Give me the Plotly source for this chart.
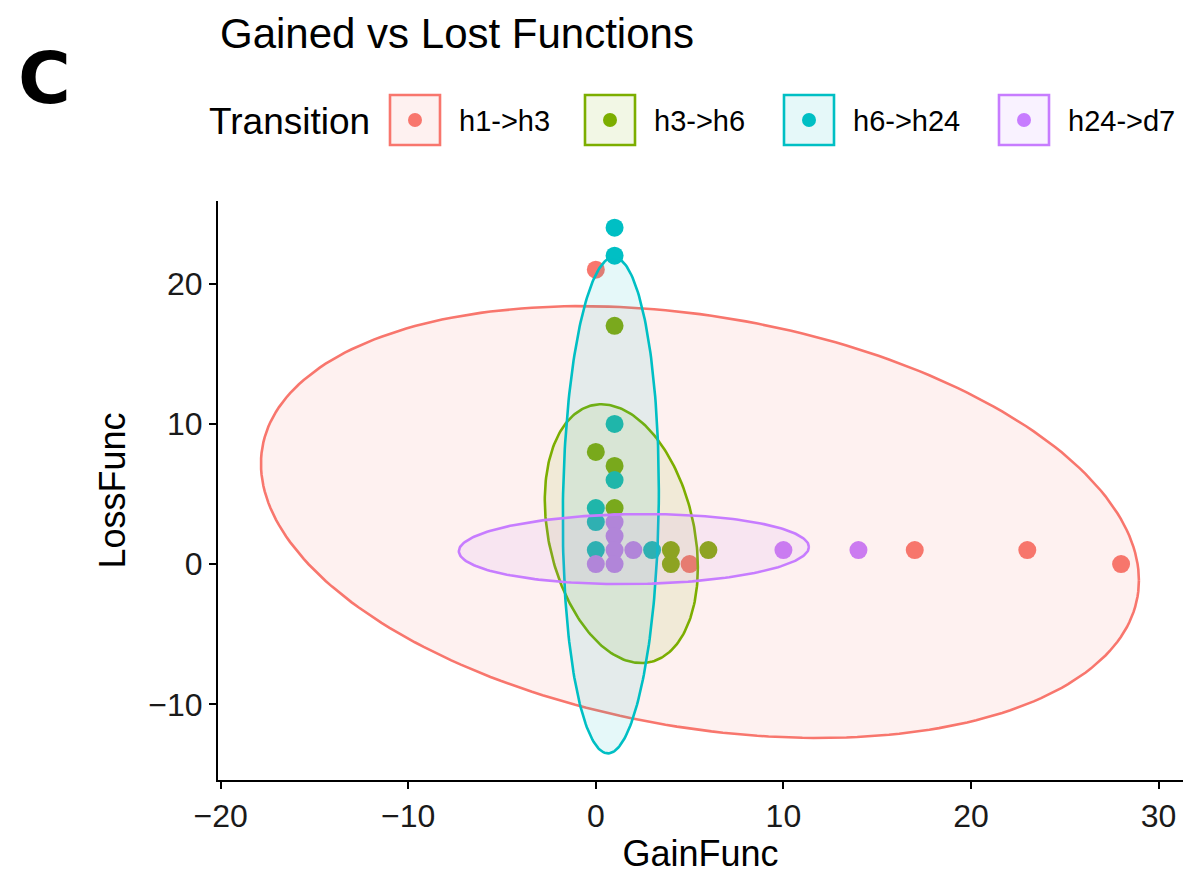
import numpy as np
import plotly.graph_objects as go

# Transition groups and their colours
groups = ["h1->h3", "h3->h6", "h6->h24", "h24->d7"]
colors = ["#F8766D", "#7CAE00", "#00BFC4", "#C77CFF"]

# Gained / lost function counts per group
gain_h1_h3 = [0, 5, 17, 23, 28]
loss_h1_h3 = [21, 0, 1, 1, 0]
gain_h3_h6 = [1, 0, 1, 1, 4, 4, 6]
loss_h3_h6 = [17, 8, 7, 4, 1, 0, 1]
gain_h6_h24 = [1, 1, 1, 1, 0, 0, 0, 3]
loss_h6_h24 = [24, 22, 10, 6, 4, 3, 1, 1]
gain_h24_d7 = [1, 1, 1, 2, 0, 1, 10, 14]
loss_h24_d7 = [3, 2, 1, 1, 0, 0, 1, 1]

gains = [gain_h1_h3, gain_h3_h6, gain_h6_h24, gain_h24_d7]
losses = [loss_h1_h3, loss_h3_h6, loss_h6_h24, loss_h24_d7]

# Confidence ellipse parameters per group: centre, half-width, half-height, correlation
ell_cx = [5.55, 1.36, 0.80, 2.03]
ell_cy = [3.00, 2.17, 4.20, 1.07]
ell_hx = [23.4, 4.08, 2.56, 9.33]
ell_hy = [15.4, 9.23, 17.7, 2.50]
ell_rho = [-0.27, -0.26, 0.06, 0.06]

FONT = "Liberation Sans, Arial, sans-serif"


def rgba(hex_color, a):
    h = hex_color.lstrip("#")
    r, g, b = int(h[0:2], 16), int(h[2:4], 16), int(h[4:6], 16)
    return f"rgba({r},{g},{b},{a})"


fig = go.Figure()

for name, col, gx, ly in zip(groups, colors, gains, losses):
    fig.add_trace(go.Scatter(
        x=gx, y=ly, mode="markers", name=name, showlegend=False,
        marker=dict(color=col, size=18, line=dict(width=0)),
    ))

t = np.linspace(0, 2 * np.pi, 241)
for name, col, cx, cy, hx, hy, rho in zip(groups, colors, ell_cx, ell_cy,
                                          ell_hx, ell_hy, ell_rho):
    ex = cx + hx * np.cos(t)
    ey = cy + hy * (rho * np.cos(t) + np.sqrt(1 - rho ** 2) * np.sin(t))
    fig.add_trace(go.Scatter(
        x=ex, y=ey, mode="lines", fill="toself", showlegend=False,
        fillcolor=rgba(col, 0.1), line=dict(color=col, width=2.6),
        hoverinfo="skip",
    ))

axis_font = dict(family=FONT, size=32, color="#1a1a1a")
title_font = dict(family=FONT, size=36, color="black")

fig.update_layout(
    width=1202, height=874,
    margin=dict(l=218, r=19, t=201, b=94),
    paper_bgcolor="white", plot_bgcolor="white",
    font=dict(family=FONT, color="black"),
    showlegend=False,
    xaxis=dict(
        range=[-20.14, 31.3], tickvals=[-20, -10, 0, 10, 20, 30],
        ticktext=["\u221220", "\u221210", "0", "10", "20", "30"],
        showgrid=False, zeroline=False, showline=True, linecolor="black",
        linewidth=2, ticks="outside", ticklen=7, tickwidth=2, tickcolor="black",
        tickfont=axis_font, automargin=False,
        title=dict(text="GainFunc", font=title_font, standoff=10),
    ),
    yaxis=dict(
        range=[-15.4, 25.9], tickvals=[-10, 0, 10, 20],
        ticktext=["\u221210", "0", "10", "20"],
        showgrid=False, zeroline=False, showline=True, linecolor="black",
        linewidth=2, ticks="outside", ticklen=7, tickwidth=2, tickcolor="black",
        tickfont=axis_font, automargin=False,
        title=dict(text="LossFunc", font=title_font, standoff=12),
    ),
)

# Pixel helpers for placing text and the key outside the plotting area
PW, PH, PL, PT = 965.0, 579.0, 218.0, 201.0


def px_x(p):
    return (p - PL) / PW


def px_y(p):
    return 1 + (PT - p) / PH


# Panel letter and title
fig.add_annotation(text="<b>C</b>", xref="paper", yref="paper",
                   x=px_x(16), y=px_y(78), xanchor="left", yanchor="middle",
                   showarrow=False, font=dict(family="DejaVu Sans", size=72, color="black"))
fig.add_annotation(text="Gained vs Lost Functions", xref="paper", yref="paper",
                   x=px_x(218), y=px_y(33), xanchor="left", yanchor="middle",
                   showarrow=False, font=dict(family=FONT, size=42, color="black"))

# Colour key
fig.add_annotation(text="Transition", xref="paper", yref="paper",
                   x=px_x(207), y=px_y(121), xanchor="left", yanchor="middle",
                   showarrow=False, font=dict(family=FONT, size=37, color="black"))
key_left = [390, 585, 784, 999]
for name, col, kx in zip(groups, colors, key_left):
    fig.add_shape(type="rect", xref="paper", yref="paper",
                  x0=px_x(kx), x1=px_x(kx + 50), y0=px_y(145), y1=px_y(95),
                  line=dict(color=col, width=2.6), fillcolor=rgba(col, 0.1))
    fig.add_shape(type="circle", xref="paper", yref="paper",
                  x0=px_x(kx + 25 - 7), x1=px_x(kx + 25 + 7),
                  y0=px_y(120 + 7), y1=px_y(120 - 7),
                  line=dict(width=0), fillcolor=col)
    fig.add_annotation(text=name, xref="paper", yref="paper",
                       x=px_x(kx + 67), y=px_y(121), xanchor="left", yanchor="middle",
                       showarrow=False, font=dict(family=FONT, size=29, color="black"))

fig.write_html("out.html")
